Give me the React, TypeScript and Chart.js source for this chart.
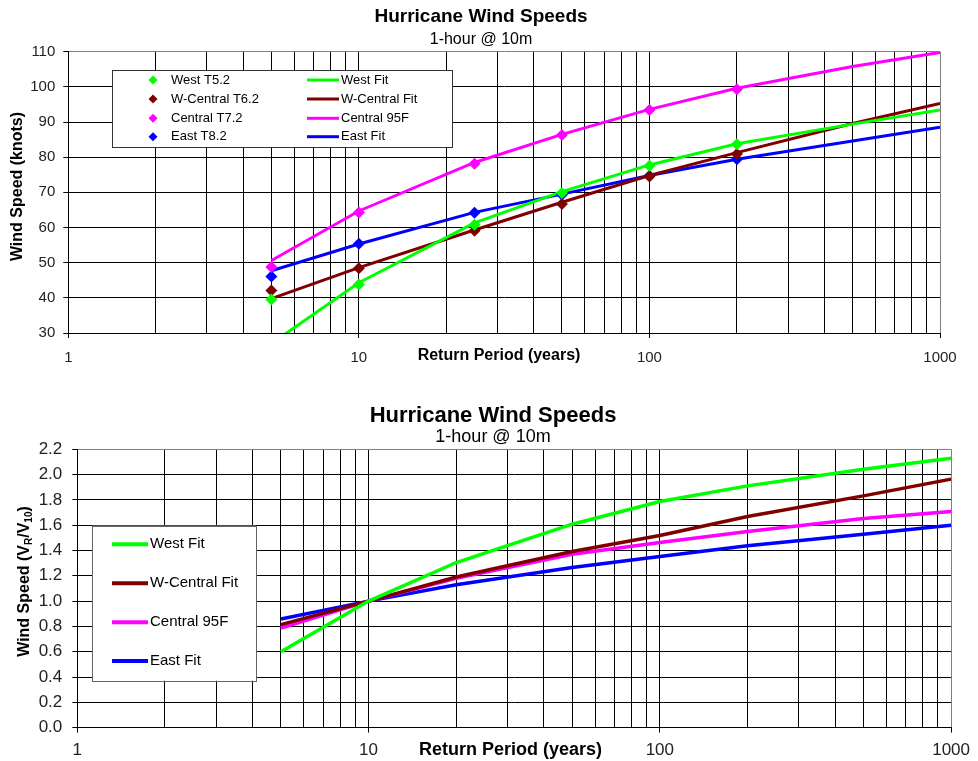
import React, { useEffect, useRef } from "react";
import { Chart, registerables } from "chart.js";

Chart.register(...registerables);

const FONT = "'Liberation Sans', Arial, Helvetica, sans-serif";
Chart.defaults.font.family = FONT;
Chart.defaults.color = "#000";

// ---------- Top chart: wind speeds (knots) ----------
const OBS_PERIODS = [5, 10, 25, 50, 100, 200];
const WEST_OBS = [39.5, 43.8, 60.8, 69.8, 77.6, 83.7];
const WCENTRAL_OBS = [42.1, 48.4, 59.1, 66.7, 74.5, 80.9];
const CENTRAL_OBS = [48.8, 64.3, 78.1, 86.3, 93.4, 99.3];
const EAST_OBS = [46.1, 55.4, 64.2, 69.3, 74.7, 79.4];

const FIT_PERIODS = [5, 10, 25, 50, 100, 200, 500, 1000];
const WEST_FIT = [27.0, 44.3, 61.3, 70.2, 77.8, 83.8, 89.4, 93.4];
const WCENTRAL_FIT = [39.8, 48.6, 59.3, 67.2, 74.8, 81.3, 89.6, 95.3];
const CENTRAL_FIT = [50.6, 64.7, 78.5, 86.5, 93.6, 99.6, 105.8, 109.8];
const EAST_FIT = [47.7, 55.3, 64.3, 69.5, 74.8, 79.4, 84.6, 88.5];

// ---------- Bottom chart: ratio V_R / V_10 ----------
const RATIO_PERIODS = [5, 10, 20, 50, 100, 200, 500, 1000];
const WEST_RATIO = [0.6, 1.0, 1.305, 1.608, 1.787, 1.911, 2.043, 2.13];
const WCENTRAL_RATIO = [0.814, 1.0, 1.19, 1.392, 1.518, 1.669, 1.832, 1.964];
const CENTRAL_RATIO = [0.787, 1.0, 1.18, 1.371, 1.463, 1.55, 1.653, 1.708];
const EAST_RATIO = [0.859, 1.0, 1.13, 1.265, 1.352, 1.437, 1.529, 1.6];

// ---------- Axes ----------
const X_GRID = [
  1, 2, 3, 4, 5, 6, 7, 8, 9,
  10, 20, 30, 40, 50, 60, 70, 80, 90,
  100, 200, 300, 400, 500, 600, 700, 800, 900,
  1000,
];
const X_LABELS = [1, 10, 100, 1000];

const TITLE = "Hurricane Wind Speeds";
const SUBTITLE = "1-hour @ 10m";
const X_TITLE = "Return Period (years)";
const Y_TITLE_TOP = "Wind Speed (knots)";

const GREEN = "#00FF00";
const BROWN = "#800000";
const MAGENTA = "#FF00FF";
const BLUE = "#0000FF";

const pts = (xs: number[], ys: number[]) => xs.map((x, i) => ({ x, y: ys[i] }));

type LegendItem = { ds: number; kind: "marker" | "line"; y: number; mx?: number; x1?: number; x2?: number; tx: number };
type OverlayCfg = {
  legend: { box: { x: number; y: number; w: number; h: number }; border: string; font: string; lineWidth: number; markerR: number; items: LegendItem[] };
  xTitle: { text: string; x: number; y: number; font: string };
  yTitle: { parts: { t: string; sub?: boolean }[]; x: number; y: number; font: string; subFont: string; subDy: number };
};

function makeOverlay(cfg: OverlayCfg) {
  return {
    id: "overlay",
    afterDatasetsDraw(chart: any) {
      const ctx: CanvasRenderingContext2D = chart.ctx;
      const L = cfg.legend;
      ctx.save();
      ctx.fillStyle = "#fff";
      ctx.fillRect(L.box.x, L.box.y, L.box.w, L.box.h);
      ctx.strokeStyle = L.border;
      ctx.lineWidth = 1;
      ctx.strokeRect(Math.round(L.box.x) + 0.5, Math.round(L.box.y) + 0.5, Math.round(L.box.w), Math.round(L.box.h));
      ctx.font = L.font;
      ctx.textBaseline = "middle";
      ctx.textAlign = "left";
      for (const it of L.items) {
        const ds = chart.data.datasets[it.ds];
        const color = ds.borderColor as string;
        if (it.kind === "marker") {
          const r = L.markerR;
          ctx.fillStyle = color;
          ctx.beginPath();
          ctx.moveTo(it.mx!, it.y - r);
          ctx.lineTo(it.mx! + r, it.y);
          ctx.lineTo(it.mx!, it.y + r);
          ctx.lineTo(it.mx! - r, it.y);
          ctx.closePath();
          ctx.fill();
        } else {
          ctx.strokeStyle = color;
          ctx.lineWidth = L.lineWidth;
          ctx.beginPath();
          ctx.moveTo(it.x1!, it.y);
          ctx.lineTo(it.x2!, it.y);
          ctx.stroke();
        }
        ctx.fillStyle = "#000";
        ctx.fillText(ds.label, it.tx, it.y);
      }
      ctx.restore();
    },
    afterDraw(chart: any) {
      const ctx: CanvasRenderingContext2D = chart.ctx;
      ctx.save();
      ctx.fillStyle = "#000";
      ctx.textBaseline = "middle";
      ctx.font = cfg.xTitle.font;
      ctx.textAlign = "center";
      ctx.fillText(cfg.xTitle.text, cfg.xTitle.x, cfg.xTitle.y);
      const Y = cfg.yTitle;
      ctx.translate(Y.x, Y.y);
      ctx.rotate(-Math.PI / 2);
      ctx.textAlign = "left";
      let total = 0;
      for (const p of Y.parts) {
        ctx.font = p.sub ? Y.subFont : Y.font;
        total += ctx.measureText(p.t).width;
      }
      let cx = -total / 2;
      for (const p of Y.parts) {
        ctx.font = p.sub ? Y.subFont : Y.font;
        ctx.fillText(p.t, cx, p.sub ? Y.subDy : 0);
        cx += ctx.measureText(p.t).width;
      }
      ctx.restore();
    },
  };
}

function xScale(height: number, fontSize: number, padding: number) {
  return {
    type: "logarithmic",
    min: 1,
    max: 1000,
    afterBuildTicks: (s: any) => {
      s.ticks = X_GRID.map((v) => ({ value: v, major: X_LABELS.includes(v) }));
    },
    afterFit: (s: any) => {
      s.height = height;
    },
    grid: {
      color: (c: any) => (c.tick && c.tick.value === 1000 ? "#808080" : "#000"),
      lineWidth: 1,
      tickLength: 5,
      tickColor: (c: any) => (c.tick && X_LABELS.includes(c.tick.value) ? "#000" : "rgba(0,0,0,0)"),
    },
    border: { display: true, color: "#000", width: 1 },
    ticks: {
      autoSkip: false,
      maxRotation: 0,
      minRotation: 0,
      padding,
      color: "#222",
      font: { size: fontSize, family: FONT },
      callback: (v: any) => (X_LABELS.includes(Number(v)) ? String(v) : ""),
    },
    title: { display: false },
  };
}

function topConfig(): any {
  const dsObs = (label: string, ys: number[], color: string) => ({
    label,
    data: pts(OBS_PERIODS, ys),
    showLine: false,
    pointStyle: "rectRot",
    pointRadius: 6,
    pointBackgroundColor: color,
    pointBorderColor: color,
    pointBorderWidth: 0,
    borderColor: color,
    backgroundColor: color,
  });
  const dsFit = (label: string, ys: number[], color: string) => ({
    label,
    data: pts(FIT_PERIODS, ys),
    borderColor: color,
    backgroundColor: color,
    borderWidth: 3,
    pointRadius: 0,
    tension: 0,
    fill: false,
  });
  const rows = [80, 99, 118.3, 136.7];
  const overlay = makeOverlay({
    legend: {
      box: { x: 112, y: 70, w: 340, h: 77 },
      border: "#333",
      font: `13px ${FONT}`,
      lineWidth: 3,
      markerR: 4.5,
      items: [
        ...rows.map((y, i) => ({ ds: i, kind: "marker" as const, y, mx: 153, tx: 171 })),
        ...rows.map((y, i) => ({ ds: i + 4, kind: "line" as const, y, x1: 307, x2: 339, tx: 341 })),
      ],
    },
    xTitle: { text: X_TITLE, x: 499, y: 356, font: `bold 16px ${FONT}` },
    yTitle: { parts: [{ t: Y_TITLE_TOP }], x: 18, y: 186.5, font: `bold 16px ${FONT}`, subFont: `bold 10px ${FONT}`, subDy: 4 },
  });
  return {
    type: "line",
    data: {
      datasets: [
        dsObs("West T5.2", WEST_OBS, GREEN),
        dsObs("W-Central T6.2", WCENTRAL_OBS, BROWN),
        dsObs("Central T7.2", CENTRAL_OBS, MAGENTA),
        dsObs("East T8.2", EAST_OBS, BLUE),
        dsFit("West Fit", WEST_FIT, GREEN),
        dsFit("W-Central Fit", WCENTRAL_FIT, BROWN),
        dsFit("Central 95F", CENTRAL_FIT, MAGENTA),
        dsFit("East Fit", EAST_FIT, BLUE),
      ],
    },
    options: {
      responsive: false,
      animation: false,
      events: [],
      layout: { padding: { left: 22, right: 38, top: 0, bottom: 0 } },
      plugins: {
        legend: { display: false },
        tooltip: { enabled: false },
        title: {
          display: true,
          text: TITLE,
          color: "#000",
          font: { size: 19, weight: "bold", family: FONT, lineHeight: 1 },
          padding: { top: 7.2, bottom: 0 },
        },
        subtitle: {
          display: true,
          text: SUBTITLE,
          color: "#000",
          font: { size: 16, family: FONT, lineHeight: 1 },
          padding: { top: 5, bottom: 4.5 },
        },
      },
      scales: {
        x: xScale(47, 15, 11),
        y: {
          min: 30,
          max: 110,
          afterFit: (s: any) => {
            s.width = 46.3;
          },
          grid: {
            color: (c: any) => (c.tick && c.tick.value === 110 ? "#808080" : "#000"),
            lineWidth: 1,
            tickLength: 5,
            tickColor: "#000",
          },
          border: { display: true, color: "#000", width: 1 },
          ticks: { stepSize: 10, padding: 8, color: "#222", font: { size: 15, family: FONT } },
          title: { display: false },
        },
      },
    },
    plugins: [overlay],
  };
}

function bottomConfig(): any {
  const dsFit = (label: string, ys: number[], color: string) => ({
    label,
    data: pts(RATIO_PERIODS, ys),
    borderColor: color,
    backgroundColor: color,
    borderWidth: 3.5,
    pointRadius: 0,
    tension: 0,
    fill: false,
  });
  const rows = [164.3, 203.3, 242.3, 281];
  const overlay = makeOverlay({
    legend: {
      box: { x: 92.3, y: 145.7, w: 163.7, h: 155 },
      border: "#666",
      font: `15px ${FONT}`,
      lineWidth: 4,
      markerR: 4.5,
      items: rows.map((y, i) => ({ ds: i, kind: "line" as const, y, x1: 112, x2: 148, tx: 150 })),
    },
    xTitle: { text: X_TITLE, x: 510.5, y: 370, font: `bold 18px ${FONT}` },
    yTitle: {
      parts: [{ t: "Wind Speed (V" }, { t: "R", sub: true }, { t: "/V" }, { t: "10", sub: true }, { t: ")" }],
      x: 24.5,
      y: 201.5,
      font: `bold 16px ${FONT}`,
      subFont: `bold 10px ${FONT}`,
      subDy: 5,
    },
  });
  return {
    type: "line",
    data: {
      datasets: [
        dsFit("West Fit", WEST_RATIO, GREEN),
        dsFit("W-Central Fit", WCENTRAL_RATIO, BROWN),
        dsFit("Central 95F", CENTRAL_RATIO, MAGENTA),
        dsFit("East Fit", EAST_RATIO, BLUE),
      ],
    },
    options: {
      responsive: false,
      animation: false,
      events: [],
      layout: { padding: { left: 29.3, right: 21.3, top: 0, bottom: 0 } },
      plugins: {
        legend: { display: false },
        tooltip: { enabled: false },
        title: {
          display: true,
          text: TITLE,
          color: "#000",
          font: { size: 22, weight: "bold", family: FONT, lineHeight: 1 },
          padding: { top: 25, bottom: 0 },
        },
        subtitle: {
          display: true,
          text: SUBTITLE,
          color: "#000",
          font: { size: 18, family: FONT, lineHeight: 1 },
          padding: { top: 1.5, bottom: 2.8 },
        },
      },
      scales: {
        x: xScale(33.4, 17, 8),
        y: {
          min: 0,
          max: 2.2,
          afterFit: (s: any) => {
            s.width = 48;
          },
          grid: {
            color: (c: any) => (c.tick && Math.abs(c.tick.value - 2.2) < 1e-6 ? "#808080" : "#000"),
            lineWidth: 1,
            tickLength: 5,
            tickColor: "#000",
          },
          border: { display: true, color: "#000", width: 1 },
          ticks: {
            stepSize: 0.2,
            padding: 10,
            color: "#222",
            font: { size: 17, family: FONT },
            callback: (v: any) => Number(v).toFixed(1),
          },
          title: { display: false },
        },
      },
    },
    plugins: [overlay],
  };
}

function ChartCanvas({ make, width, height, top }: { make: () => any; width: number; height: number; top: number }) {
  const ref = useRef<HTMLCanvasElement>(null);
  useEffect(() => {
    if (!ref.current) return;
    const chart = new Chart(ref.current, make());
    return () => chart.destroy();
  }, [make]);
  return (
    <canvas
      ref={ref}
      width={width}
      height={height}
      style={{ position: "absolute", left: 0, top, width, height, display: "block" }}
    />
  );
}

export default function App() {
  return (
    <div style={{ position: "absolute", left: 0, top: 0, width: 978, height: 761, background: "#fff" }}>
      <ChartCanvas make={topConfig} width={978} height={380} top={0} />
      <ChartCanvas make={bottomConfig} width={978} height={381} top={380} />
    </div>
  );
}
